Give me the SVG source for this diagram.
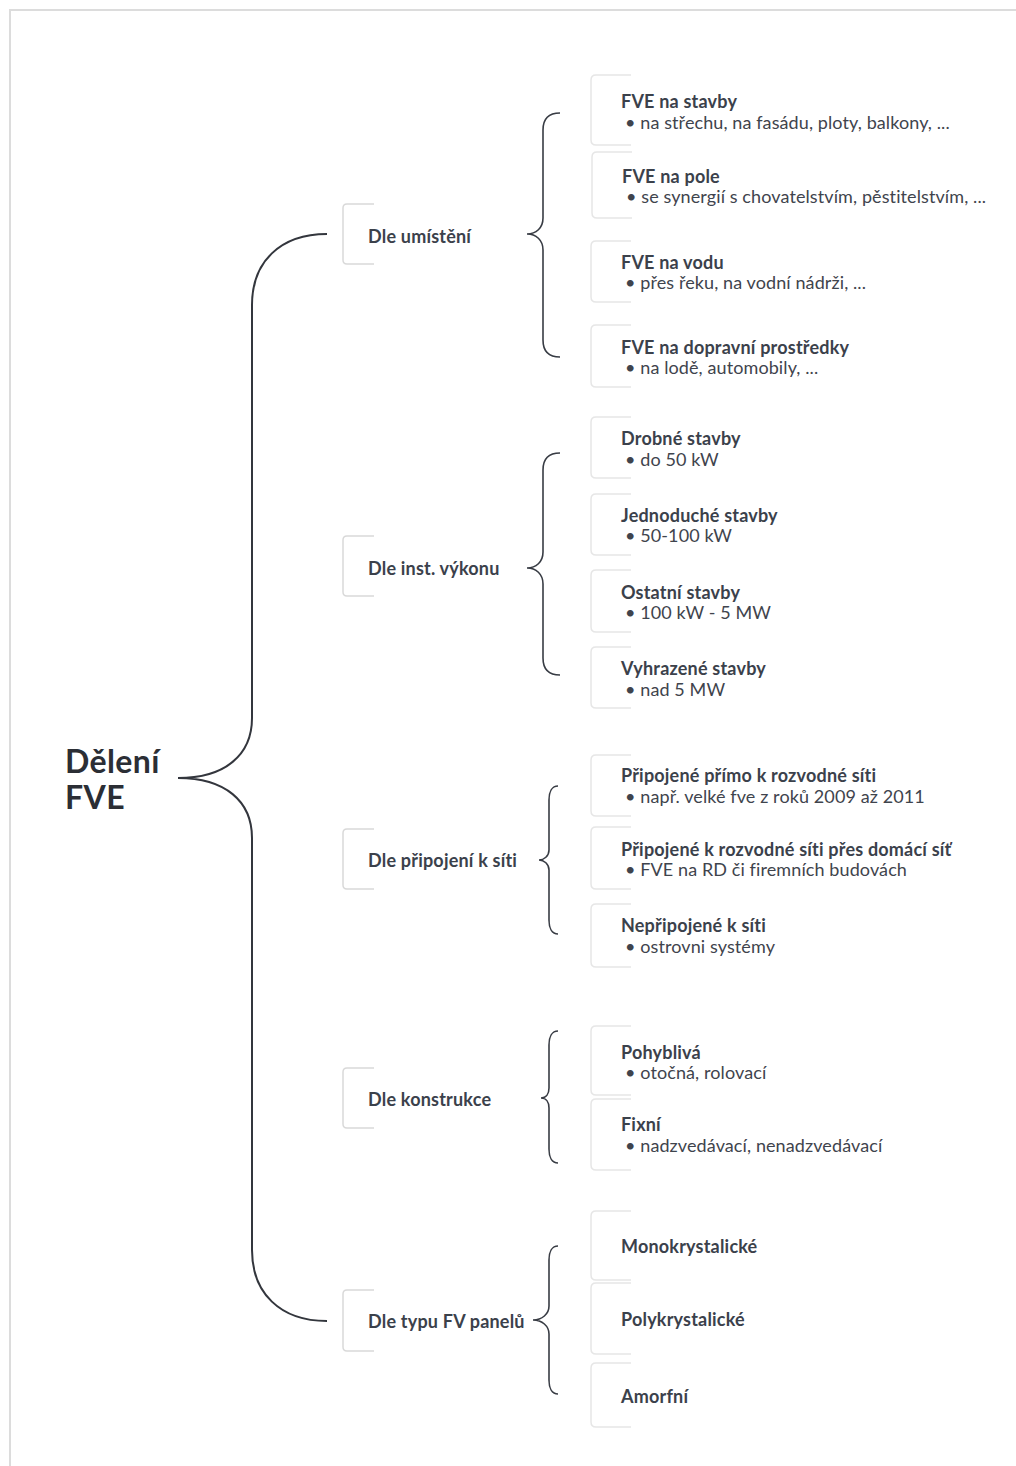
<svg xmlns="http://www.w3.org/2000/svg" width="1016" height="1466" viewBox="0 0 1016 1466">
<style>
.frame{fill:none;stroke:#dcdcdc;stroke-width:2}
.brace{fill:none;stroke:#383c44;stroke-width:1.6}
.big{fill:none;stroke:#33363d;stroke-width:2}
.cbox{fill:none;stroke:#d9d9d9;stroke-width:1.5}
.lbox{fill:none;stroke:#e6e6e6;stroke-width:1.5}
.root{font-family:Lato,"Liberation Sans",sans-serif;font-weight:700;font-size:32px;fill:#2b2e35;letter-spacing:0.4px}
.cat{font-family:Lato,"Liberation Sans",sans-serif;font-weight:700;font-size:18px;fill:#3b414b;letter-spacing:0.2px}
.tt{font-family:Lato,"Liberation Sans",sans-serif;font-weight:700;font-size:18px;fill:#3b414b;letter-spacing:0.2px}
.bt{font-family:Lato,"Liberation Sans",sans-serif;font-weight:400;font-size:18px;fill:#3f444d;letter-spacing:0.1px}
</style>
<rect class="frame" x="10" y="10" width="1020" height="1470"/>
<g id="connectors">
<path class="big" d="M327,234 C280,234 252,262 252,305 L252,718 C252,755 225,778 178,778 C225,778 252,801 252,838 L252,1250 C252,1293 280,1321 327,1321"/>
<path class="brace" d="M560,113 C548,113 543,120 543,130 L543,218 C543,228 536,234 527,234 C536,234 543,240 543,250 L543,340 C543,350 548,357 560,357"/>
<path class="brace" d="M560,453 C548,453 543,460 543,470 L543,552 C543,562 536,568 527,568 C536,568 543,574 543,584 L543,658 C543,668 548,675 560,675"/>
<path class="brace" d="M558,786 C552,786 549,792 549,800 L549,850 C549,856 544,860 539,860 C544,860 549,864 549,870 L549,920 C549,928 552,934 558,934"/>
<path class="brace" d="M558,1031 C552,1031 549,1037 549,1045 L549,1088 C549,1094 546,1098 541,1098 C546,1098 549,1102 549,1108 L549,1149 C549,1157 552,1163 558,1163"/>
<path class="brace" d="M558,1246 C552,1246 549,1252 549,1260 L549,1306 C549,1314 542,1320 533,1320 C542,1320 549,1326 549,1334 L549,1380 C549,1388 552,1394 558,1394"/>
</g>
<g id="root"><text class="root" x="65" y="773">Dělení</text><text class="root" x="65" y="809">FVE</text></g>

<g id="cat-umisteni"><path class="cbox" d="M374,204 L347,204 Q343,204 343,208 L343,260 Q343,264 347,264 L374,264"/><text class="cat" x="368" y="243">Dle umístění</text></g>
<g id="cat-vykon"><path class="cbox" d="M374,536 L347,536 Q343,536 343,540 L343,592 Q343,596 347,596 L374,596"/><text class="cat" x="368" y="575">Dle inst. výkonu</text></g>
<g id="cat-pripojeni"><path class="cbox" d="M374,829 L347,829 Q343,829 343,833 L343,885 Q343,889 347,889 L374,889"/><text class="cat" x="368" y="867">Dle připojení k síti</text></g>
<g id="cat-konstrukce"><path class="cbox" d="M374,1068 L347,1068 Q343,1068 343,1072 L343,1124 Q343,1128 347,1128 L374,1128"/><text class="cat" x="368" y="1106">Dle konstrukce</text></g>
<g id="cat-panely"><path class="cbox" d="M374,1290 L347,1290 Q343,1290 343,1294 L343,1347 Q343,1351 347,1351 L374,1351"/><text class="cat" x="368" y="1328">Dle typu FV panelů</text></g>

<g id="leaf-stavby"><path class="lbox" d="M631,75 L596,75 Q591,75 591,80 L591,140 Q591,145 596,145 L631,145"/><text class="tt" x="621" y="108">FVE na stavby</text><text class="bt" x="625" y="129">• na střechu, na fasádu, ploty, balkony, ...</text></g>
<g id="leaf-pole"><path class="lbox" d="M632,152 L597,152 Q592,152 592,157 L592,213 Q592,218 597,218 L632,218"/><text class="tt" x="622" y="183">FVE na pole</text><text class="bt" x="626" y="203">• se synergií s chovatelstvím, pěstitelstvím, ...</text></g>
<g id="leaf-voda"><path class="lbox" d="M631,241 L596,241 Q591,241 591,246 L591,297 Q591,302 596,302 L631,302"/><text class="tt" x="621" y="269">FVE na vodu</text><text class="bt" x="625" y="289">• přes řeku, na vodní nádrži, ...</text></g>
<g id="leaf-doprava"><path class="lbox" d="M631,325 L596,325 Q591,325 591,330 L591,382 Q591,387 596,387 L631,387"/><text class="tt" x="621" y="354">FVE na dopravní prostředky</text><text class="bt" x="625" y="374">• na lodě, automobily, ...</text></g>

<g id="leaf-drobne"><path class="lbox" d="M631,417 L596,417 Q591,417 591,422 L591,473 Q591,478 596,478 L631,478"/><text class="tt" x="621" y="445">Drobné stavby</text><text class="bt" x="625" y="466">• do 50 kW</text></g>
<g id="leaf-jednoduche"><path class="lbox" d="M631,494 L596,494 Q591,494 591,499 L591,550 Q591,555 596,555 L631,555"/><text class="tt" x="621" y="522">Jednoduché stavby</text><text class="bt" x="625" y="542">• 50-100 kW</text></g>
<g id="leaf-ostatni"><path class="lbox" d="M631,570 L596,570 Q591,570 591,575 L591,627 Q591,632 596,632 L631,632"/><text class="tt" x="621" y="599">Ostatní stavby</text><text class="bt" x="625" y="619">• 100 kW - 5 MW</text></g>
<g id="leaf-vyhrazene"><path class="lbox" d="M631,647 L596,647 Q591,647 591,652 L591,703 Q591,708 596,708 L631,708"/><text class="tt" x="621" y="675">Vyhrazené stavby</text><text class="bt" x="625" y="696">• nad 5 MW</text></g>

<g id="leaf-primo"><path class="lbox" d="M631,755 L596,755 Q591,755 591,760 L591,811 Q591,816 596,816 L631,816"/><text class="tt" x="621" y="782">Připojené přímo k rozvodné síti</text><text class="bt" x="625" y="803">• např. velké fve z roků 2009 až 2011</text></g>
<g id="leaf-domaci"><path class="lbox" d="M631,827 L596,827 Q591,827 591,832 L591,884 Q591,889 596,889 L631,889"/><text class="tt" x="621" y="856">Připojené k rozvodné síti přes domácí síť</text><text class="bt" x="625" y="876">• FVE na RD či firemních budovách</text></g>
<g id="leaf-nepripojene"><path class="lbox" d="M631,904 L596,904 Q591,904 591,909 L591,962 Q591,967 596,967 L631,967"/><text class="tt" x="621" y="932">Nepřipojené k síti</text><text class="bt" x="625" y="953">• ostrovni systémy</text></g>

<g id="leaf-pohybliva"><path class="lbox" d="M631,1026 L596,1026 Q591,1026 591,1031 L591,1090 Q591,1095 596,1095 L631,1095"/><text class="tt" x="621" y="1059">Pohyblivá</text><text class="bt" x="625" y="1079">• otočná, rolovací</text></g>
<g id="leaf-fixni"><path class="lbox" d="M631,1099 L596,1099 Q591,1099 591,1104 L591,1165 Q591,1170 596,1170 L631,1170"/><text class="tt" x="621" y="1131">Fixní</text><text class="bt" x="625" y="1152">• nadzvedávací, nenadzvedávací</text></g>

<g id="leaf-mono"><path class="lbox" d="M631,1211 L596,1211 Q591,1211 591,1216 L591,1275 Q591,1280 596,1280 L631,1280"/><text class="tt" x="621" y="1253">Monokrystalické</text></g>
<g id="leaf-poly"><path class="lbox" d="M631,1283 L596,1283 Q591,1283 591,1288 L591,1349 Q591,1354 596,1354 L631,1354"/><text class="tt" x="621" y="1326">Polykrystalické</text></g>
<g id="leaf-amorfni"><path class="lbox" d="M631,1363 L596,1363 Q591,1363 591,1368 L591,1422 Q591,1427 596,1427 L631,1427"/><text class="tt" x="621" y="1403">Amorfní</text></g>
</svg>
